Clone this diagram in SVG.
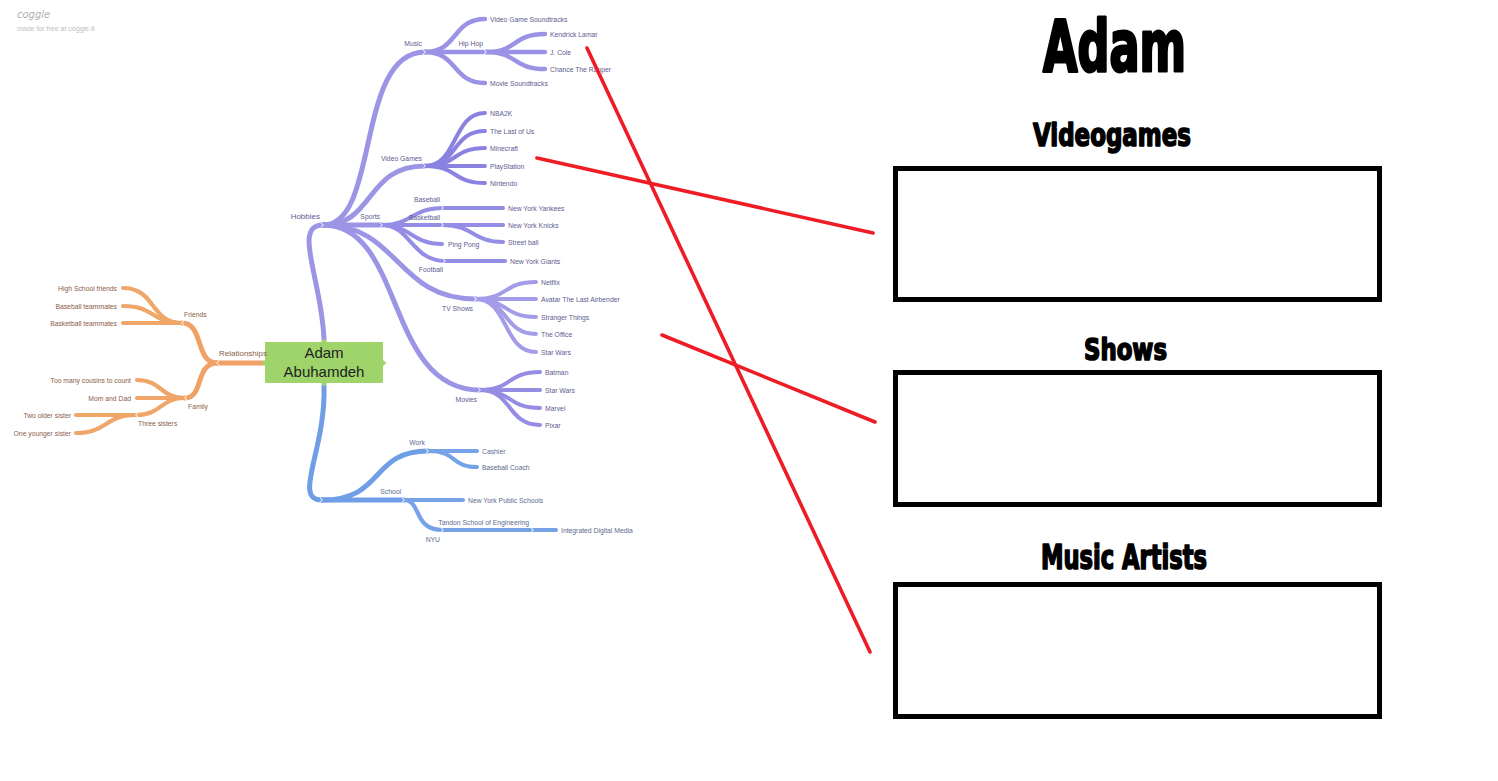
<svg xmlns="http://www.w3.org/2000/svg" xmlns:xlink="http://www.w3.org/1999/xlink" width="1498" height="781" viewBox="0 0 1498 781">
<defs>
<style>
.c{fill:none;stroke-linecap:round;stroke-linejoin:round}
.p1{stroke:#9c95e5;stroke-width:5}
.p2{stroke:#9a92e4;stroke-width:4.4}
.pv{stroke:#8a82e0;stroke-width:4}
.pt{stroke:#a39de9;stroke-width:4}
.pm{stroke:#958de4;stroke-width:4}
.ps{stroke:#948de5;stroke-width:4}
.o1{stroke:#f0a166;stroke-width:5}
.o2{stroke:#f0a569;stroke-width:4.2}
.b1{stroke:#6f9ee6;stroke-width:5}
.b2{stroke:#76a3e8;stroke-width:4.2}
.red{stroke:#ee1c25;stroke-width:3.6;stroke-linecap:round;fill:none}
.chev{fill:none;stroke:#ffffff;stroke-width:1}
text{font-family:"Liberation Sans",Arial,sans-serif}
.tp{fill:#5d5b8f;font-size:6.8px}
.to{fill:#8a5c4a;font-size:6.8px}
.tb{fill:#5b6b8f;font-size:6.8px}
.l1{font-size:8px}
.e{text-anchor:end}
.title{font-family:"DejaVu Sans Condensed","DejaVu Sans",sans-serif;font-weight:bold;fill:#000;stroke:#000;stroke-linejoin:round}
.box{fill:none;stroke:#000;stroke-width:5}
</style>
<path id="chR" class="chev" d="M-2,-2.2 L0.4,0 L-2,2.2"/>
<path id="chL" class="chev" d="M2,-2.2 L-0.4,0 L2,2.2"/>
</defs>
<rect width="1498" height="781" fill="#ffffff"/>

<g id="coggle-logo">
<text x="17" y="18" style="font-family:'DejaVu Sans',sans-serif;font-style:italic;font-size:10px;fill:#b0b0b0">coggle</text>
<text x="17" y="31" style="font-size:7px;fill:#c0c0c0">made for free at coggle.it</text>
</g>

<g id="connectors">
<!-- Hobbies -->
<path class="c p1" d="M324,340 C322,280 292,225 323,225"/>
<path class="c p1" d="M323,225 C380,225 355,52 425,52"/>
<path class="c p1" d="M323,225 C375,225 365,166 425,166"/>
<path class="c p1" d="M323,225 L382,225"/>
<path class="c p1" d="M323,225 C400,225 395,299 476,299"/>
<path class="c p1" d="M323,225 C405,225 385,390 480,390"/>
<!-- Music -->
<path class="c p2" d="M425,52 C458,52 452,19 485,19"/>
<path class="c p2" d="M425,52 L486,52"/>
<path class="c p2" d="M425,52 C458,52 452,83 485,83"/>
<path class="c p2" d="M486,52 C518,52 512,34 545,34"/>
<path class="c p2" d="M486,52 L545,52"/>
<path class="c p2" d="M486,52 C518,52 512,69 545,69"/>
<!-- Video Games -->
<path class="c pv" d="M425,166 C458,166 452,113 485,113"/>
<path class="c pv" d="M425,166 C458,166 452,131 485,131"/>
<path class="c pv" d="M425,166 C458,166 452,148 485,148"/>
<path class="c pv" d="M425,166 L485,166"/>
<path class="c pv" d="M425,166 C458,166 452,183 485,183"/>
<!-- Sports -->
<path class="c ps" d="M382,225 C412,225 412,208 443,208"/>
<path class="c ps" d="M382,225 L443,225"/>
<path class="c ps" d="M382,225 C410,225 412,244 442,244"/>
<path class="c ps" d="M382,225 C410,225 412,261 445,261"/>
<path class="c ps" d="M443,208 L503,208"/>
<path class="c ps" d="M443,225 L503,225"/>
<path class="c ps" d="M443,225 C473,225 473,242 503,242"/>
<path class="c ps" d="M445,261 L505,261"/>
<!-- TV Shows -->
<path class="c pt" d="M476,299 C508,299 503,282 536,282"/>
<path class="c pt" d="M476,299 L536,299"/>
<path class="c pt" d="M476,299 C508,299 503,317 536,317"/>
<path class="c pt" d="M476,299 C508,299 503,334 536,334"/>
<path class="c pt" d="M476,299 C508,299 503,352 536,352"/>
<!-- Movies -->
<path class="c pm" d="M480,390 C512,390 507,372 540,372"/>
<path class="c pm" d="M480,390 L540,390"/>
<path class="c pm" d="M480,390 C512,390 507,408 540,408"/>
<path class="c pm" d="M480,390 C512,390 507,425 540,425"/>
<!-- Relationships -->
<path class="c o1" d="M263,363 L217,363"/>
<path class="c o1" d="M217,363 C195,363 204,323 182,323"/>
<path class="c o1" d="M217,363 C195,363 204,398 185,398"/>
<path class="c o2" d="M182,323 C150,323 156,288 123,288"/>
<path class="c o2" d="M182,323 C150,323 156,306 123,306"/>
<path class="c o2" d="M182,323 L123,323"/>
<path class="c o2" d="M185,398 C160,398 162,380 137,380"/>
<path class="c o2" d="M185,398 L137,398"/>
<path class="c o2" d="M185,398 C160,398 162,415 136,415"/>
<path class="c o2" d="M136,415 L76,415"/>
<path class="c o2" d="M136,415 C105,415 107,433 76,433"/>
<!-- Work / School -->
<path class="c b1" d="M324,386 C326,450 292,500 322,500"/>
<path class="c b1" d="M322,500 C385,500 370,451 428,451"/>
<path class="c b1" d="M322,500 L404,500"/>
<path class="c b2" d="M428,451 L477,451"/>
<path class="c b2" d="M428,451 C458,451 450,467 477,467"/>
<path class="c b2" d="M404,500 L463,500"/>
<path class="c b2" d="M404,500 C422,500 412,530 443,530"/>
<path class="c b2" d="M443,530 L533,530"/>
<path class="c b2" d="M533,530 L556,530"/>
<!-- hub chevrons -->
<use xlink:href="#chR" x="323" y="225"/>
<use xlink:href="#chR" x="425" y="52"/>
<use xlink:href="#chR" x="486" y="52"/>
<use xlink:href="#chR" x="425" y="166"/>
<use xlink:href="#chR" x="382" y="225"/>
<use xlink:href="#chR" x="443" y="208"/>
<use xlink:href="#chR" x="443" y="225"/>
<use xlink:href="#chR" x="445" y="261"/>
<use xlink:href="#chR" x="476" y="299"/>
<use xlink:href="#chR" x="480" y="390"/>
<use xlink:href="#chR" x="322" y="500"/>
<use xlink:href="#chR" x="428" y="451"/>
<use xlink:href="#chR" x="404" y="500"/>
<use xlink:href="#chR" x="443" y="530"/>
<use xlink:href="#chR" x="533" y="530"/>
<use xlink:href="#chL" x="217" y="363"/>
<use xlink:href="#chL" x="182" y="323"/>
<use xlink:href="#chL" x="185" y="398"/>
<use xlink:href="#chL" x="136" y="415"/>
</g>

<g id="node-center">
<rect x="265" y="342" width="118" height="41" fill="#9ed46a"/>
<path d="M324,338.5 L327,342 L321,342 Z M324,386.5 L327,383 L321,383 Z M261.5,363 L265,360 L265,366 Z M386.5,363 L383,360 L383,366 Z" fill="#9ed46a"/>
<text x="324" y="358" text-anchor="middle" style="font-size:15px;fill:#222">Adam</text>
<text x="324" y="377" text-anchor="middle" style="font-size:15px;fill:#222">Abuhamdeh</text>
</g>

<g id="node-hobbies"><text class="tp l1 e" x="320" y="219">Hobbies</text></g>
<g id="node-music"><text class="tp e" x="422" y="46">Music</text></g>
<g id="node-vgsound"><text class="tp" x="490" y="21.5">Video Game Soundtracks</text></g>
<g id="node-hiphop"><text class="tp e" x="483" y="46">Hip Hop</text></g>
<g id="node-kendrick"><text class="tp" x="550" y="36.5">Kendrick Lamar</text></g>
<g id="node-jcole"><text class="tp" x="550" y="54.5">J. Cole</text></g>
<g id="node-chance"><text class="tp" x="550" y="71.5">Chance The Rapper</text></g>
<g id="node-moviesound"><text class="tp" x="490" y="85.5">Movie Soundtracks</text></g>
<g id="node-videogames"><text class="tp e" x="422" y="160.5">Video Games</text></g>
<g id="node-nba2k"><text class="tp" x="490" y="115.5">NBA2K</text></g>
<g id="node-lastofus"><text class="tp" x="490" y="133.5">The Last of Us</text></g>
<g id="node-minecraft"><text class="tp" x="490" y="150.5">Minecraft</text></g>
<g id="node-playstation"><text class="tp" x="490" y="168.5">PlayStation</text></g>
<g id="node-nintendo"><text class="tp" x="490" y="185.5">Nintendo</text></g>
<g id="node-sports"><text class="tp e" x="380" y="219">Sports</text></g>
<g id="node-baseball"><text class="tp e" x="440" y="202">Baseball</text></g>
<g id="node-yankees"><text class="tp" x="508" y="210.5">New York Yankees</text></g>
<g id="node-basketball"><text class="tp e" x="440" y="219.5">Basketball</text></g>
<g id="node-knicks"><text class="tp" x="508" y="227.5">New York Knicks</text></g>
<g id="node-streetball"><text class="tp" x="508" y="244.5">Street ball</text></g>
<g id="node-pingpong"><text class="tp" x="448" y="246.5">Ping Pong</text></g>
<g id="node-football"><text class="tp e" x="443" y="271.5">Football</text></g>
<g id="node-giants"><text class="tp" x="510" y="263.5">New York Giants</text></g>
<g id="node-tvshows"><text class="tp e" x="473" y="310.5">TV Shows</text></g>
<g id="node-netflix"><text class="tp" x="541" y="284.5">Netflix</text></g>
<g id="node-avatar"><text class="tp" x="541" y="301.5">Avatar The Last Airbender</text></g>
<g id="node-stranger"><text class="tp" x="541" y="319.5">Stranger Things</text></g>
<g id="node-office"><text class="tp" x="541" y="336.5">The Office</text></g>
<g id="node-starwars-tv"><text class="tp" x="541" y="354.5">Star Wars</text></g>
<g id="node-movies"><text class="tp e" x="477" y="401.5">Movies</text></g>
<g id="node-batman"><text class="tp" x="545" y="374.5">Batman</text></g>
<g id="node-starwars-mv"><text class="tp" x="545" y="392.5">Star Wars</text></g>
<g id="node-marvel"><text class="tp" x="545" y="410.5">Marvel</text></g>
<g id="node-pixar"><text class="tp" x="545" y="427.5">Pixar</text></g>

<g id="node-relationships"><text class="to l1" x="219" y="356">Relationships</text></g>
<g id="node-friends"><text class="to" x="184" y="316.5">Friends</text></g>
<g id="node-hsfriends"><text class="to e" x="117" y="290.5">High School friends</text></g>
<g id="node-bbteam"><text class="to e" x="117" y="308.5">Baseball teammates</text></g>
<g id="node-bkteam"><text class="to e" x="117" y="325.5">Basketball teammates</text></g>
<g id="node-family"><text class="to" x="188" y="408.5">Family</text></g>
<g id="node-cousins"><text class="to e" x="131" y="382.5">Too many cousins to count</text></g>
<g id="node-momdad"><text class="to e" x="131" y="400.5">Mom and Dad</text></g>
<g id="node-sisters"><text class="to" x="138" y="425.5">Three sisters</text></g>
<g id="node-older"><text class="to e" x="71" y="417.5">Two older sister</text></g>
<g id="node-younger"><text class="to e" x="71" y="435.5">One younger sister</text></g>

<g id="node-work"><text class="tb e" x="425" y="444.5">Work</text></g>
<g id="node-cashier"><text class="tb" x="482" y="453.5">Cashier</text></g>
<g id="node-coach"><text class="tb" x="482" y="469.5">Baseball Coach</text></g>
<g id="node-school"><text class="tb e" x="401" y="493.5">School</text></g>
<g id="node-nyps"><text class="tb" x="468" y="502.5">New York Public Schools</text></g>
<g id="node-nyu"><text class="tb e" x="440" y="541.5">NYU</text></g>
<g id="node-tandon"><text class="tb e" x="529" y="524.5">Tandon School of Engineering</text></g>
<g id="node-idm"><text class="tb" x="561" y="532.5">Integrated Digital Media</text></g>

<g id="worksheet">
<text class="title" x="1043" y="70.5" style="font-size:72px;stroke-width:3" textLength="143" lengthAdjust="spacingAndGlyphs">Adam</text>
<text class="title" x="1033" y="145.5" style="font-size:32px;stroke-width:1.6" textLength="158" lengthAdjust="spacingAndGlyphs">Videogames</text>
<rect class="box" x="895.5" y="168.5" width="484" height="131"/>
<text class="title" x="1084" y="359.5" style="font-size:31px;stroke-width:1.6" textLength="83" lengthAdjust="spacingAndGlyphs">Shows</text>
<rect class="box" x="895.5" y="372.5" width="484" height="132"/>
<text class="title" x="1041" y="568.5" style="font-size:33px;stroke-width:1.6" textLength="166" lengthAdjust="spacingAndGlyphs">Music Artists</text>
<rect class="box" x="895.5" y="584.5" width="484" height="132"/>
</g>

<g id="answer-lines">
<line class="red" x1="587" y1="48" x2="870" y2="652"/>
<line class="red" x1="537" y1="158" x2="873" y2="233"/>
<line class="red" x1="662" y1="335" x2="875" y2="422"/>
</g>
</svg>
